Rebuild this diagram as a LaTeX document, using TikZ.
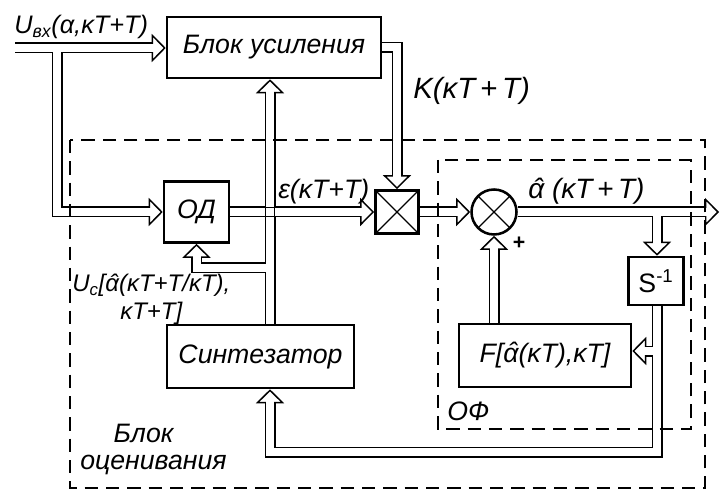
\documentclass[tikz,border=0pt]{standalone}
\usepackage{fontspec}
\setmainfont{Liberation Sans}
\usetikzlibrary{arrows.meta,calc,backgrounds}
\newcommand\ahat{\ooalign{α\cr\hidewidth\kern0.14em\raisebox{0.02em}{ˆ}\hidewidth\cr}}
\tikzset{
  every node/.style={font=\itshape\fontsize{20}{22}\selectfont},
  blk/.style={draw,line width=1.9pt,fill=white,inner sep=0pt,align=center},
  cross/.style={path picture={\draw[line width=1pt]
      (path picture bounding box.north west)--(path picture bounding box.south east)
      (path picture bounding box.north east)--(path picture bounding box.south west);}},
  lbl/.style={anchor=base west,inner sep=0pt},
  pipe/.style={line width=8.25pt,line join=miter,
    -{Triangle[length=10.5pt,width=21pt,line width=1.1pt,fill=white]}},
  pipein/.style={line width=6pt,draw=white,line join=miter,shorten >=8pt},
  wire/.style={line width=1.1pt},
  zone/.style={line width=0.9pt,dash pattern=on 10pt off 6pt}
}
% double connectors: drawn once in black, then once in white
\newcommand\pipework[1]{%
  \draw[#1] (src) -- (src -| amp.west);
  \draw[#1] (br) |- (od.west);
  \draw[#1] (amp.east) -| (mul.north);
  \draw[#1] (od.east) -- (mul.west);
  \draw[#1] (mul.east) -- (sum.west);
  \draw[#1] (sum.east) -- (sink);
  \draw[#1] (tap) -- (tap |- inv.north);
  \draw[#1] (tap |- inv.south) -- (rb) -- (lb) -- (lb |- syn.south);
  \draw[#1] (fb) -- (fb -| fun.east);
  \draw[#1] (sum |- fun.north) -- (sum.south);
  \draw[#1] (up |- syn.north) -- (up |- amp.south);
  \draw[#1] (up) -| (od.south);
}
\begin{document}
\begin{tikzpicture}[x=0.75pt,y=-0.75pt]
  \useasboundingbox (0,0) rectangle (720,491);
  \node[blk,minimum width=160.5pt,minimum height=45.75pt] (amp) at (274,47.5) {Блок усиления};
  \node[blk,minimum width=48.75pt,minimum height=45.75pt] (od) at (196.5,212) {ОД};
  \node[blk,cross,line width=2.3pt,minimum size=32pt] (mul) at (397,212) {};
  \node[blk,cross,circle,minimum size=33.75pt] (sum) at (494,212) {};
  \node[blk,minimum width=41.25pt,minimum height=36pt] (inv) at (656,281) {\upshape S\textsuperscript{-1}};
  \node[blk,minimum width=129pt,minimum height=47.25pt] (fun) at (545,355.5) {F[\ahat(κT),κT]};
  \node[blk,minimum width=140.25pt,minimum height=47.25pt] (syn) at (260.5,356.5) {Синтезатор};

  \coordinate (src) at (15,48);
  \coordinate (br) at (57,48);
  \coordinate (sink) at (719,212);
  \coordinate (tap) at (657,212);
  \coordinate (fb) at (657,351);
  \coordinate (rb) at (657,452);
  \coordinate (lb) at (270,452);
  \coordinate (up) at (270,268);
  \coordinate (cr) at (270,212);

  \node[lbl,font=\itshape\fontsize{19}{22}\selectfont] (uin) at (14,34) {U\textsubscript{вх}(α,κT+T)};
  \node[lbl,font=\itshape\fontsize{22}{24}\selectfont] (klab) at (413,99) {K(κT\,+\,T)};
  \node[lbl] (elab) at (278,199) {ε(κT+T)};
  \node[lbl,font=\itshape\fontsize{21}{24}\selectfont] (alab) at (528,199) {\ahat\ (κT\,+\,T)};
  \node[font=\bfseries\fontsize{16}{16}\selectfont] (plus) at (519,243) {+};
  \node[lbl,anchor=north west,align=left,font=\itshape\fontsize{18}{21}\selectfont] (uclab) at (72,274) {U\textsubscript{c}[\ahat(κT+T/κT),\\\hspace*{36pt}κT+T]};
  \node[lbl] (oflab) at (447,420) {ОФ};
  \node[lbl,anchor=north west,align=left,font=\itshape\fontsize{20}{20}\selectfont] (estlab) at (80,424) {\hspace*{25pt}Блок\\оценивания};

  \begin{pgfonlayer}{background}
    \pipework{pipe}
    \pipework{pipein}
    % crossing of the two pipes stays open
    \draw[wire] ([shift={(-4.75,-6)}]cr) -- ++(0,12) ([shift={(4.75,-6)}]cr) -- ++(0,12)
      ([shift={(-6,-4.75)}]cr) -- ++(12,0) ([shift={(-6,4.75)}]cr) -- ++(12,0);
    \draw[zone] (70,140) rectangle (705,488);
    \draw[zone] (438,160) rectangle (691,429);
  \end{pgfonlayer}
\end{tikzpicture}
\end{document}
